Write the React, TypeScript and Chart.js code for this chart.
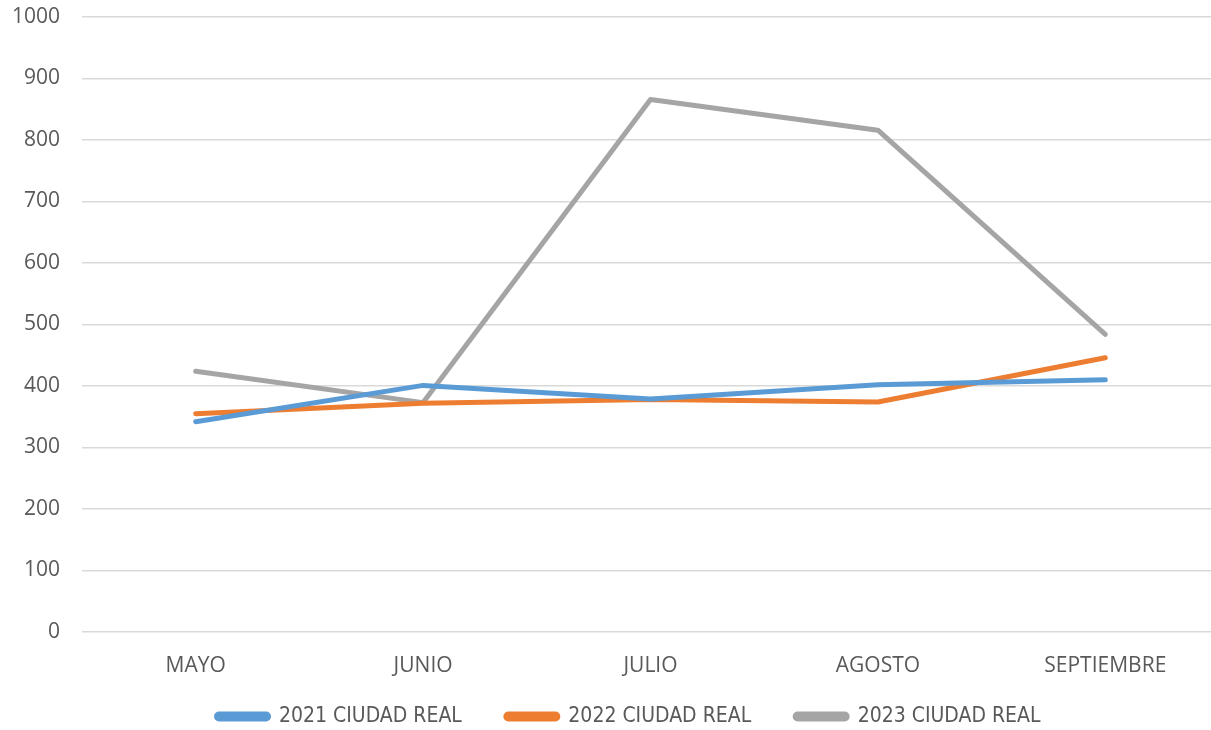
import React, { useEffect, useRef } from "react";
import { Chart, registerables } from "chart.js";

Chart.register(...registerables);

const months = ["MAYO", "JUNIO", "JULIO", "AGOSTO", "SEPTIEMBRE"];
const series2021 = [342, 401, 379, 402, 410];
const series2022 = [355, 372, 378, 374, 446];
const series2023 = [424, 373, 866, 816, 484];
const seriesNames = ["2021 CIUDAD REAL", "2022 CIUDAD REAL", "2023 CIUDAD REAL"];
const seriesColors = ["#5B9BD5", "#ED7D31", "#A5A5A5"];

const legendShift = {
  id: "legendShift",
  afterLayout(chart: any) {
    if (chart.legend) {
      chart.legend.left += 38;
    }
  },
};

export default function App() {
  const ref = useRef<HTMLCanvasElement | null>(null);

  useEffect(() => {
    document.body.style.margin = "0";
    document.body.style.overflow = "hidden";
    const values = [series2021, series2022, series2023];
    const chart = new Chart(ref.current!, {
      type: "line",
      data: {
        labels: months,
        datasets: values.map((v, i) => ({
          label: seriesNames[i],
          data: v,
          borderColor: seriesColors[i],
          backgroundColor: seriesColors[i],
          borderWidth: 5,
          borderCapStyle: "round" as const,
          borderJoinStyle: "round" as const,
          pointRadius: 0,
          pointHoverRadius: 0,
          tension: 0,
        })),
      },
      plugins: [legendShift],
      options: {
        animation: false,
        responsive: false,
        maintainAspectRatio: false,
        layout: { padding: { top: 0, right: 1, left: 0, bottom: 0 } },
        plugins: {
          tooltip: { enabled: false },
          legend: {
            position: "bottom",
            labels: {
              color: "#595959",
              font: { family: "'DejaVu Sans Condensed', 'Open Sans', sans-serif", size: 21 },
              boxWidth: 52,
              boxHeight: 5,
              useBorderRadius: true,
              borderRadius: 2.5,
              padding: 44,
            },
          },
        },
        scales: {
          x: {
            offset: true,
            grid: { display: false },
            border: { display: false },
            afterFit: (s: any) => {
              s.height = 30;
              s._computeLabelArea = () => undefined;
            },
            ticks: {
              color: "#595959",
              font: { family: "'Open Sans', sans-serif", size: 21 },
              padding: 13,
              maxRotation: 0,
            },
          },
          y: {
            min: 0,
            max: 1000,
            afterFit: (s: any) => {
              s.width = 82;
              s.paddingTop = 17;
              s.paddingBottom = 0;
            },
            grid: { color: "#D9D9D9", lineWidth: 1.5, drawTicks: false },
            border: { display: false },
            ticks: {
              stepSize: 100,
              color: "#595959",
              font: { family: "'Open Sans', sans-serif", size: 21 },
              padding: 22,
              callback: (v: any) => String(v),
            },
          },
        },
      },
    });
    return () => chart.destroy();
  }, []);

  return (
    <div style={{ position: "absolute", left: 0, top: 0, width: 1220, height: 737 }}>
      <canvas ref={ref} width={1220} height={737} style={{ width: 1220, height: 737 }} />
    </div>
  );
}
